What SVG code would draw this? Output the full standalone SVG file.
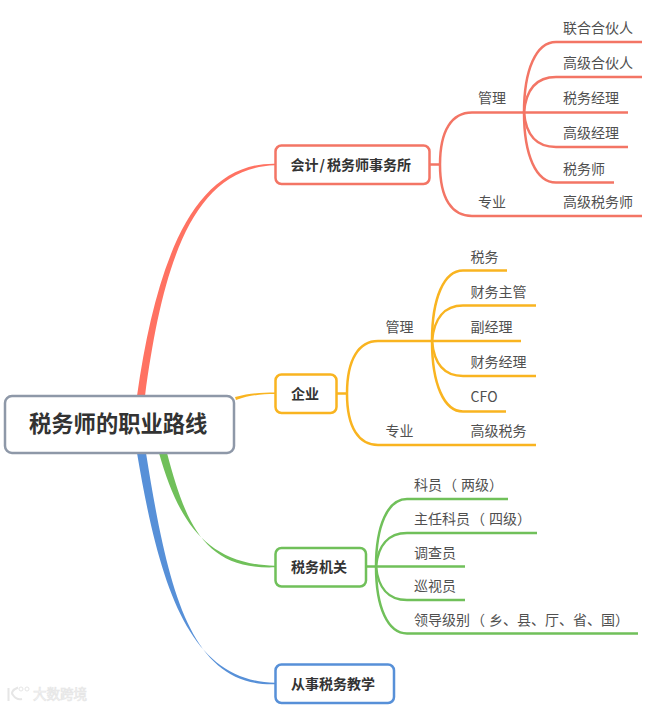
<svg xmlns="http://www.w3.org/2000/svg" width="655" height="708" viewBox="0 0 655 708">
<style>
text{font-family:"Noto Sans CJK SC","Liberation Sans",sans-serif;font-size:14px;fill:#505050;font-kerning:none}
.n{font-weight:700;fill:#333}
.b{fill:#fff;stroke-width:2.5}
.l{fill:none;stroke-width:2.5}
.r{stroke:#F37565}.y{stroke:#F9B420}.g{stroke:#70C05A}.u{stroke:#5790D8}
.w{font-size:13.5px;fill:#f8f8f8;stroke:#e6e6e6;stroke-width:.7}
.wl{fill:none;stroke:#e6e6e6}
</style>
<rect width="655" height="708" fill="#fff"/>
<g id="connectors">
<path d="M137 396C155 270 190 162.500 275 163.700V165.200C190 168 162 270 145 396Z" fill="#FF7262"/>
<path d="M235 397C250 393 262 392.500 275 392.500L275 394C262 394 250 395 236 400Z" fill="#F9B420"/>
<path d="M159 453C178 520 205 564 275 565.800V567.300C205 570 186 525 167 453Z" fill="#70C05A"/>
<path d="M137 453C160 590 190 681 275 682.800V684.300C190 687 168 590 146 453Z" fill="#5790D8"/>
<g class="l r">
<path d="M430 164.500H440"/>
<path d="M440 164.500C440 130 452 112.500 472 112.500H524M440 164.500C440 199 452 216 472 216H642"/>
<path d="M524 112.500C524 70 536 42 556 42H642"/>
<path d="M524 112.500C526 90 536 77 556 77H642"/>
<path d="M524 112.500H628"/>
<path d="M524 112.500C526 135 536 147 556 147H628"/>
<path d="M524 112.500C524 155 536 182.500 556 182.500H614"/>
</g>
<g class="l y">
<path d="M337 393.500H347"/>
<path d="M347 393.500C347 359 359 341 378 341H432M347 393.500C347 428 359 445 378 445H536"/>
<path d="M432 341C432 298 444 270.500 463 270.500H507"/>
<path d="M432 341C434 319 444 305.500 463 305.500H536"/>
<path d="M432 341H521"/>
<path d="M432 341C434 363 444 376 463 376H536"/>
<path d="M432 341C432 384 444 411.500 463 411.500H506"/>
</g>
<g class="l g">
<path d="M366 566.500H376"/>
<path d="M376 566.500C376 525 388 499 407 499H508"/>
<path d="M376 566.500C378 546 388 533 407 533H537"/>
<path d="M376 566.500H465"/>
<path d="M376 566.500C378 587 388 600 407 600H465"/>
<path d="M376 566.500C376 608 388 633.500 407 633.500H638"/>
</g>
</g>
<g id="root"><rect x="5" y="396" width="229" height="57" rx="7" fill="#fff" stroke="#8E98A8" stroke-width="2.500"/><text x="29" y="432" class="n" style="font-size:22.300px">税务师的职业路线</text></g>
<g id="n1"><rect class="b r" x="275.500" y="145.500" width="154" height="38.500" rx="6"/><text class="n" x="290.500" y="170">会计<tspan dx="1">/</tspan><tspan dx="2">税务师事务所</tspan></text></g>
<g id="n2"><rect class="b y" x="275.500" y="374.500" width="61" height="38.500" rx="6"/><text class="n" x="291" y="399">企业</text></g>
<g id="n3"><rect class="b g" x="275.500" y="548" width="90.500" height="38.500" rx="6"/><text class="n" x="291" y="572">税务机关</text></g>
<g id="n4"><rect class="b u" x="275.500" y="664.500" width="118.500" height="38.500" rx="6"/><text class="n" x="291" y="689">从事税务教学</text></g>
<g id="labels">
<text x="478" y="103">管理</text><text x="478" y="207">专业</text>
<text x="563" y="33">联合合伙人</text><text x="563" y="68">高级合伙人</text><text x="563" y="103">税务经理</text><text x="563" y="138">高级经理</text><text x="563" y="174">税务师</text><text x="563" y="207">高级税务师</text>
<text x="385.500" y="332">管理</text><text x="385.500" y="436">专业</text>
<text x="470.500" y="262">税务</text><text x="470.500" y="297">财务主管</text><text x="470.500" y="332">副经理</text><text x="470.500" y="367">财务经理</text><text x="470.500" y="402">CFO</text><text x="470.500" y="436">高级税务</text>
<text x="414" y="490">科员<tspan dx="1">（</tspan><tspan dx="4">两级）</tspan></text>
<text x="414" y="524">主任科员<tspan dx="1">（</tspan><tspan dx="4">四级）</tspan></text>
<text x="414" y="558">调查员</text><text x="414" y="591">巡视员</text>
<text x="414" y="625">领导级别<tspan dx="1">（</tspan><tspan dx="4">乡、县、厅、省、国）</tspan></text>
</g>
<g id="watermark">
<path class="wl" d="M8.500 688V701M18 687.500C12 690 11 693 13 695C15 698 18 700 22 699" stroke-width="2"/>
<circle class="wl" cx="21" cy="689" r="2"/><circle class="wl" cx="27" cy="689" r="2"/>
<text class="w" x="33" y="699">大数跨境</text>
</g>
</svg>
